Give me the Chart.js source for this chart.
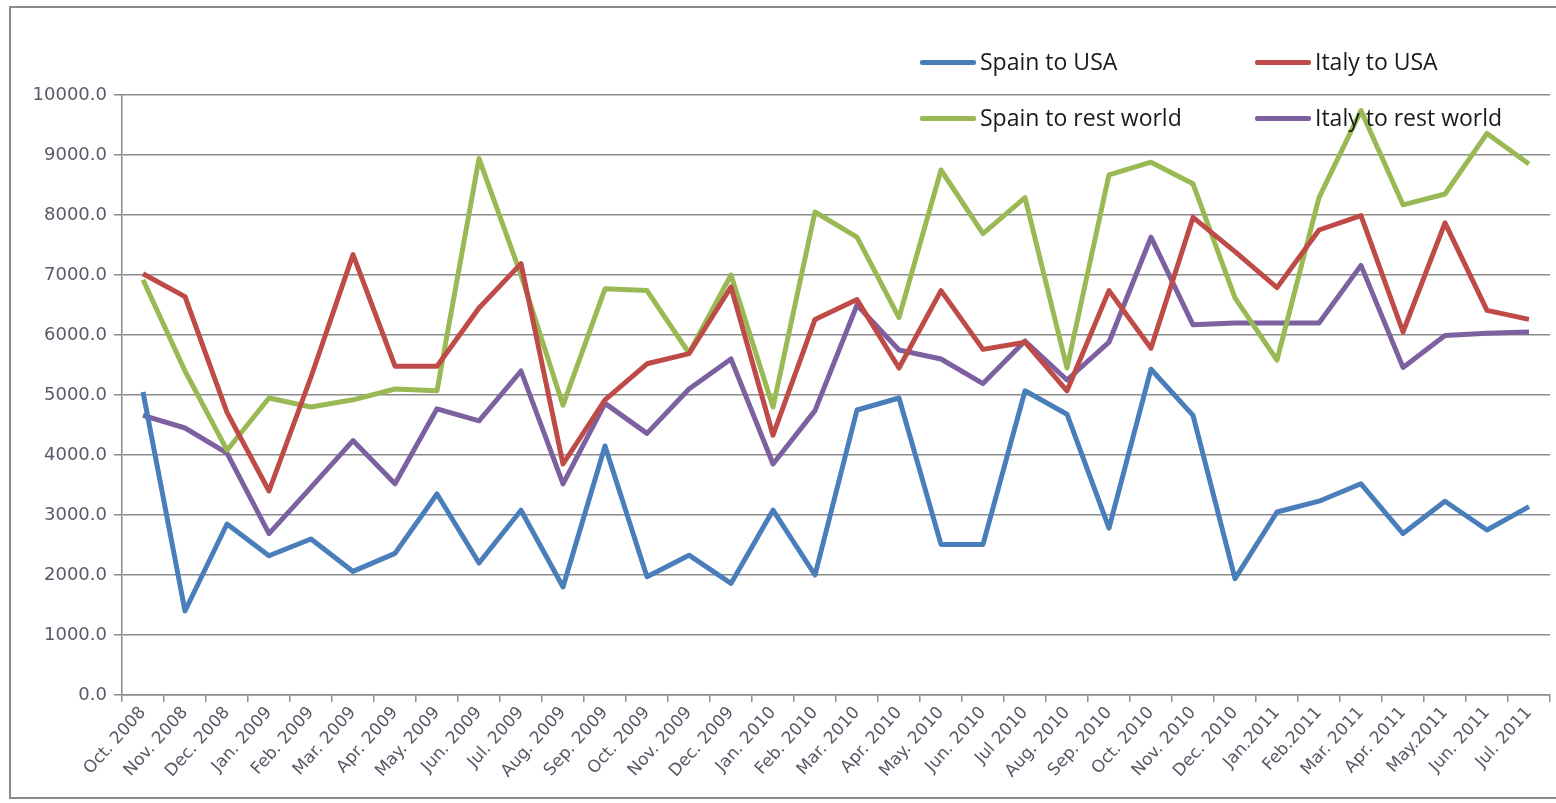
<!DOCTYPE html>
<html>
<head>
<meta charset="utf-8">
<script src="https://cdn.jsdelivr.net/npm/chart.js@4/dist/chart.umd.min.js"></script>
<style>
  html, body { margin: 0; padding: 0; background: #fff; }
  #wrap { position: relative; width: 1556px; height: 803px; overflow: hidden; }
  #frame { position: absolute; left: 9px; top: 6px; width: 1600px; height: 793px;
           border: 2px solid #8a8a8a; box-sizing: border-box; }
  #legend { position: absolute; left: 0; top: 0; font-family: "Open Sans", sans-serif;
            font-size: 23px; color: #1a1a1a; }
  .item { position: absolute; white-space: nowrap; line-height: 28px; }
  .swatch { display: inline-block; width: 56px; height: 5px; border-radius: 2px;
            vertical-align: middle; margin-right: 4px; position: relative; top: -1px; }
</style>
</head>
<body>
<div id="wrap">
  <div id="frame"></div>
  <canvas id="js--chart" width="1556" height="803"></canvas>
  <div id="legend"></div>
</div>
<script>
const months = [
  "Oct. 2008", "Nov. 2008", "Dec. 2008", "Jan. 2009", "Feb. 2009", "Mar. 2009",
  "Apr. 2009", "May. 2009", "Jun. 2009", "Jul. 2009", "Aug. 2009", "Sep. 2009",
  "Oct. 2009", "Nov. 2009", "Dec. 2009", "Jan. 2010", "Feb. 2010", "Mar. 2010",
  "Apr. 2010", "May. 2010", "Jun. 2010", "Jul 2010", "Aug. 2010", "Sep. 2010",
  "Oct. 2010", "Nov. 2010", "Dec. 2010", "Jan.2011", "Feb.2011", "Mar. 2011",
  "Apr. 2011", "May.2011", "Jun. 2011", "Jul. 2011",
];

const spainUsa = [5050, 1400, 2850, 2320, 2600, 2060, 2360, 3350, 2200, 3080, 1800, 4150,
  1970, 2330, 1860, 3080, 2000, 4750, 4950, 2510, 2510, 5070, 4680, 2780, 5430, 4660,
  1940, 3050, 3230, 3520, 2690, 3230, 2750, 3140];

const italyUsa = [7020, 6640, 4710, 3400, 5300, 7340, 5480, 5480, 6450, 7190, 3850, 4920,
  5520, 5690, 6800, 4330, 6260, 6590, 5450, 6740, 5760, 5880, 5070, 6740, 5780, 7960,
  7390, 6790, 7750, 7990, 6050, 7870, 6410, 6260];

const spainWorld = [6920, 5400, 4080, 4950, 4800, 4920, 5100, 5070, 8940, 7000, 4830, 6770,
  6740, 5700, 7000, 4800, 8050, 7630, 6290, 8750, 7690, 8290, 5450, 8670, 8880, 8520,
  6620, 5580, 8290, 9740, 8170, 8350, 9360, 8850];

const italyWorld = [4660, 4450, 4030, 2690, 3460, 4240, 3520, 4770, 4570, 5400, 3520, 4860,
  4360, 5100, 5600, 3850, 4740, 6500, 5750, 5600, 5190, 5900, 5250, 5880, 7630, 6170,
  6200, 6200, 6200, 7160, 5460, 5990, 6030, 6050];

const series = [
  { label: "Spain to USA", data: spainUsa, color: "#4a7ebb" },
  { label: "Italy to USA", data: italyUsa, color: "#be4b48" },
  { label: "Spain to rest world", data: spainWorld, color: "#98b954" },
  { label: "Italy to rest world", data: italyWorld, color: "#7d60a0" },
];

const gridGrey = "#8c8c8c";
const textGrey = "#555a66";

const data = {
  labels: months,
  datasets: series.map((s) => ({
    label: s.label,
    data: s.data,
    borderColor: s.color,
    backgroundColor: s.color,
    borderWidth: 5,
    borderJoinStyle: "round",
    pointRadius: 0,
    tension: 0,
  })),
};

const config = {
  type: "line",
  data: data,
  options: {
    responsive: false,
    animation: false,
    layout: { padding: { top: 95, right: 6, bottom: 8, left: 0 } },
    plugins: { legend: { display: false }, tooltip: { enabled: false } },
    scales: {
      x: {
        offset: true,
        grid: { offset: true, drawOnChartArea: false, color: gridGrey, tickLength: 7, lineWidth: 1.5 },
        border: { color: gridGrey, width: 1.5 },
        ticks: {
          autoSkip: false,
          minRotation: 48,
          maxRotation: 48,
          padding: 1,
          color: textGrey,
          font: { family: "DejaVu Sans", size: 17 },
        },
        afterFit: (scale) => { scale.height = 100; },
      },
      y: {
        min: 0,
        max: 10000,
        grid: { color: gridGrey, lineWidth: 1.5, tickLength: 8 },
        border: { color: gridGrey, width: 1.5 },
        ticks: {
          stepSize: 1000,
          padding: 7,
          color: textGrey,
          font: { family: "DejaVu Sans", size: 18 },
          callback: (v) => v.toFixed(1),
        },
        afterFit: (scale) => { scale.width = 122; },
      },
    },
  },
};

new Chart(document.getElementById("js--chart"), config);

// legend laid over the plot, 2 x 2 like the original
const legendPos = [[920, 47], [1255, 47], [920, 103], [1255, 103]];
const legend = document.getElementById("legend");
series.forEach((s, i) => {
  const el = document.createElement("div");
  el.className = "item";
  el.style.left = legendPos[i][0] + "px";
  el.style.top = legendPos[i][1] + "px";
  el.innerHTML = '<span class="swatch" style="background:' + s.color + '"></span>' + s.label;
  legend.appendChild(el);
});
</script>
</body>
</html>
